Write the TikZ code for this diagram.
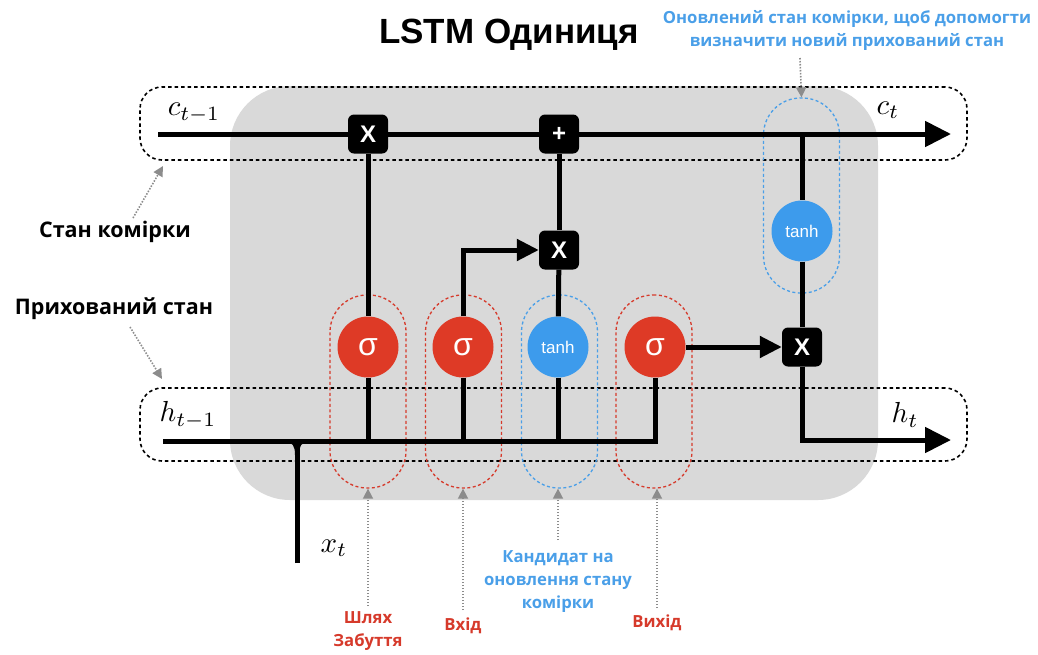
\documentclass[tikz,border=0pt]{standalone}
\usepackage{fontspec}
\usetikzlibrary{arrows.meta}
\newfontfamily\labfont{Open Sans}
\newfontfamily\ttlfont{Liberation Sans}
\definecolor{sigred}{RGB}{222,58,38}
\definecolor{tanhblue}{RGB}{61,155,236}
\definecolor{labred}{RGB}{214,58,43}
\definecolor{labblue}{RGB}{74,159,232}
\definecolor{bggray}{RGB}{217,217,217}
\definecolor{ptrgray}{RGB}{140,140,140}
\begin{document}
\begin{tikzpicture}[x=1pt,y=-1pt,
  bgbox/.style={fill=bggray,draw=none,rounded corners=60pt,minimum width=648pt,minimum height=414pt,inner sep=0pt},
  statebox/.style={draw=black,line width=1.6pt,dash pattern=on 3.5pt off 3pt,rounded corners=22pt,minimum width=827pt,minimum height=73pt,inner sep=0pt},
  redov/.style={draw=labred,line width=1.3pt,dash pattern=on 3pt off 2.5pt,rounded corners=37pt,minimum width=76pt,minimum height=193pt,inner sep=0pt},
  blueov/.style={draw=labblue,line width=1.3pt,dash pattern=on 3pt off 2.5pt,rounded corners=37pt,minimum width=76pt,inner sep=0pt},
  opbox/.style={fill=black,rounded corners=6pt,minimum width=40pt,minimum height=39pt,inner sep=0pt,text=white,font=\ttlfont\bfseries\fontsize{24}{24}\selectfont},
  sig/.style={circle,fill=sigred,minimum size=61pt,inner sep=0pt,text=white,font=\ttlfont\fontsize{32}{32}\selectfont},
  tanhc/.style={circle,fill=tanhblue,minimum size=61pt,inner sep=0pt,text=white,font=\ttlfont\fontsize{17}{17}\selectfont},
  wire/.style={line width=5pt,draw=black},
  bigarrow/.style={-{Triangle[length=26pt,width=25pt]}},
  smallarrow/.style={-{Triangle[length=22pt,width=21pt]}},
  pointer/.style={draw=ptrgray,line width=1.6pt,dash pattern=on 1.5pt off 1.5pt,-{Triangle[length=10pt,width=10pt,fill=ptrgray]}},
  lab/.style={font=\labfont\bfseries\fontsize{16.7}{23}\selectfont,align=center,inner sep=0pt},
  sidelab/.style={font=\labfont\bfseries\fontsize{21.5}{26}\selectfont,align=center,inner sep=0pt},
  mathlab/.style={font=\fontsize{10}{10}\selectfont,scale=2.9,inner sep=0pt}
]
\useasboundingbox (0,0) rectangle (1038,654);
% background cell
\node[bgbox] (cell) at (554,293) {};
% state boxes
\node[statebox] (cb) at (553.5,123.5) {};
\node[statebox] (hb) at (553.5,424.5) {};
% gate ovals
\node[redov] (o1) at (368,391.5) {};
\node[redov] (o2) at (463.5,391.5) {};
\node[blueov,minimum height=193pt] (o3) at (559.5,391.5) {};
\node[redov] (o4) at (654,391.5) {};
\node[blueov,minimum height=195pt] (o5) at (801.5,195.5) {};
% operations
\node[opbox] (m1) at (368,134) {X};
\node[opbox] (p1) at (559,134) {+};
\node[opbox] (m2) at (559,250) {X};
\node[opbox] (m3) at (802,347) {X};
\node[sig] (s1) at (368,347) {σ};
\node[sig] (s2) at (463,347) {σ};
\node[tanhc] (t1) at (558,347) {tanh};
\node[sig] (s4) at (655,347) {σ};
\node[tanhc] (t2) at (802,231) {tanh};
% coordinates
\coordinate (cin) at (158,134);
\coordinate (cout) at (951,134);
\coordinate (hin) at (163,441);
\coordinate (hout) at (951,440);
\coordinate (j1) at (802,134);
\coordinate (xb) at (297,563);
% wires
\draw[wire] (cin) -- (m1);
\draw[wire] (m1) -- (p1);
\draw[wire,bigarrow] (p1) -- (cout);
\draw[wire] (m1) -- (s1);
\draw[wire] (s1) -- (s1 |- hin);
\draw[wire] (s2) -- (s2 |- hin);
\draw[wire] (t1) -- (t1 |- hin);
\draw[wire] (hin) -| (s4);
\draw[wire,smallarrow] (s2) |- (m2);
\draw[wire] (t1) -- (m2);
\draw[wire] (m2) -- (p1);
\draw[wire,smallarrow] (s4) -- (m3);
\draw[wire] (j1) -- (t2);
\draw[wire] (t2) -- (m3);
\draw[wire,bigarrow] (m3) |- (hout);
\draw[wire] (xb) -- (xb |- hin);
\fill (284,441) .. controls (293,442) and (295,446) .. (295,455) -- (299,455) .. controls (299,446) and (301,442) .. (310,441) -- cycle;
% math labels
\node[mathlab] (lct1) at (194,113) {$c_{t-1}$};
\node[mathlab] (lct) at (888,110) {$c_{t}$};
\node[mathlab] (lht1) at (188,415) {$h_{t-1}$};
\node[mathlab] (lht) at (905,415) {$h_{t}$};
\node[mathlab] (lxt) at (334,548) {$x_{t}$};
% title
\node[font=\ttlfont\bfseries\fontsize{35}{35}\selectfont,inner sep=0pt] (title) at (509,35) {LSTM Одиниця};
% side labels
\node[sidelab] (lc) at (115,232) {Стан комірки};
\node[sidelab] (lh) at (114,309) {Прихований стан};
\coordinate (lcp) at (133,218);
\coordinate (lcq) at (163,166);
\coordinate (lhp) at (130,327);
\coordinate (lhq) at (162,379);
\draw[pointer] (lcp) -- (lcq);
\draw[pointer] (lhp) -- (lhq);
% top label
\node[lab,text=labblue] (ltop) at (847,30) {Оновлений стан комірки, щоб допомогти\\визначити новий прихований стан};
\coordinate (ltp) at (800,58);
\draw[pointer] (ltp) -- (o5.north);
% bottom labels
\node[lab,text=labred] (lf) at (368,631) {Шлях\\Забуття};
\node[lab,text=labred] (li) at (463,626) {Вхід};
\node[lab,text=labblue] (lcand) at (558,582) {Кандидат на\\оновлення стану\\комірки};
\node[lab,text=labred] (lo) at (657,623) {Вихід};
\coordinate (lfp) at (368,606);
\coordinate (lip) at (463,610);
\coordinate (lcp2) at (558,540);
\coordinate (lop) at (657,608);
\draw[pointer] (lfp) -- (lfp |- o1.south);
\draw[pointer] (lip) -- (lip |- o2.south);
\draw[pointer] (lcp2) -- (lcp2 |- o3.south);
\draw[pointer] (lop) -- (lop |- o4.south);
\end{tikzpicture}
\end{document}
